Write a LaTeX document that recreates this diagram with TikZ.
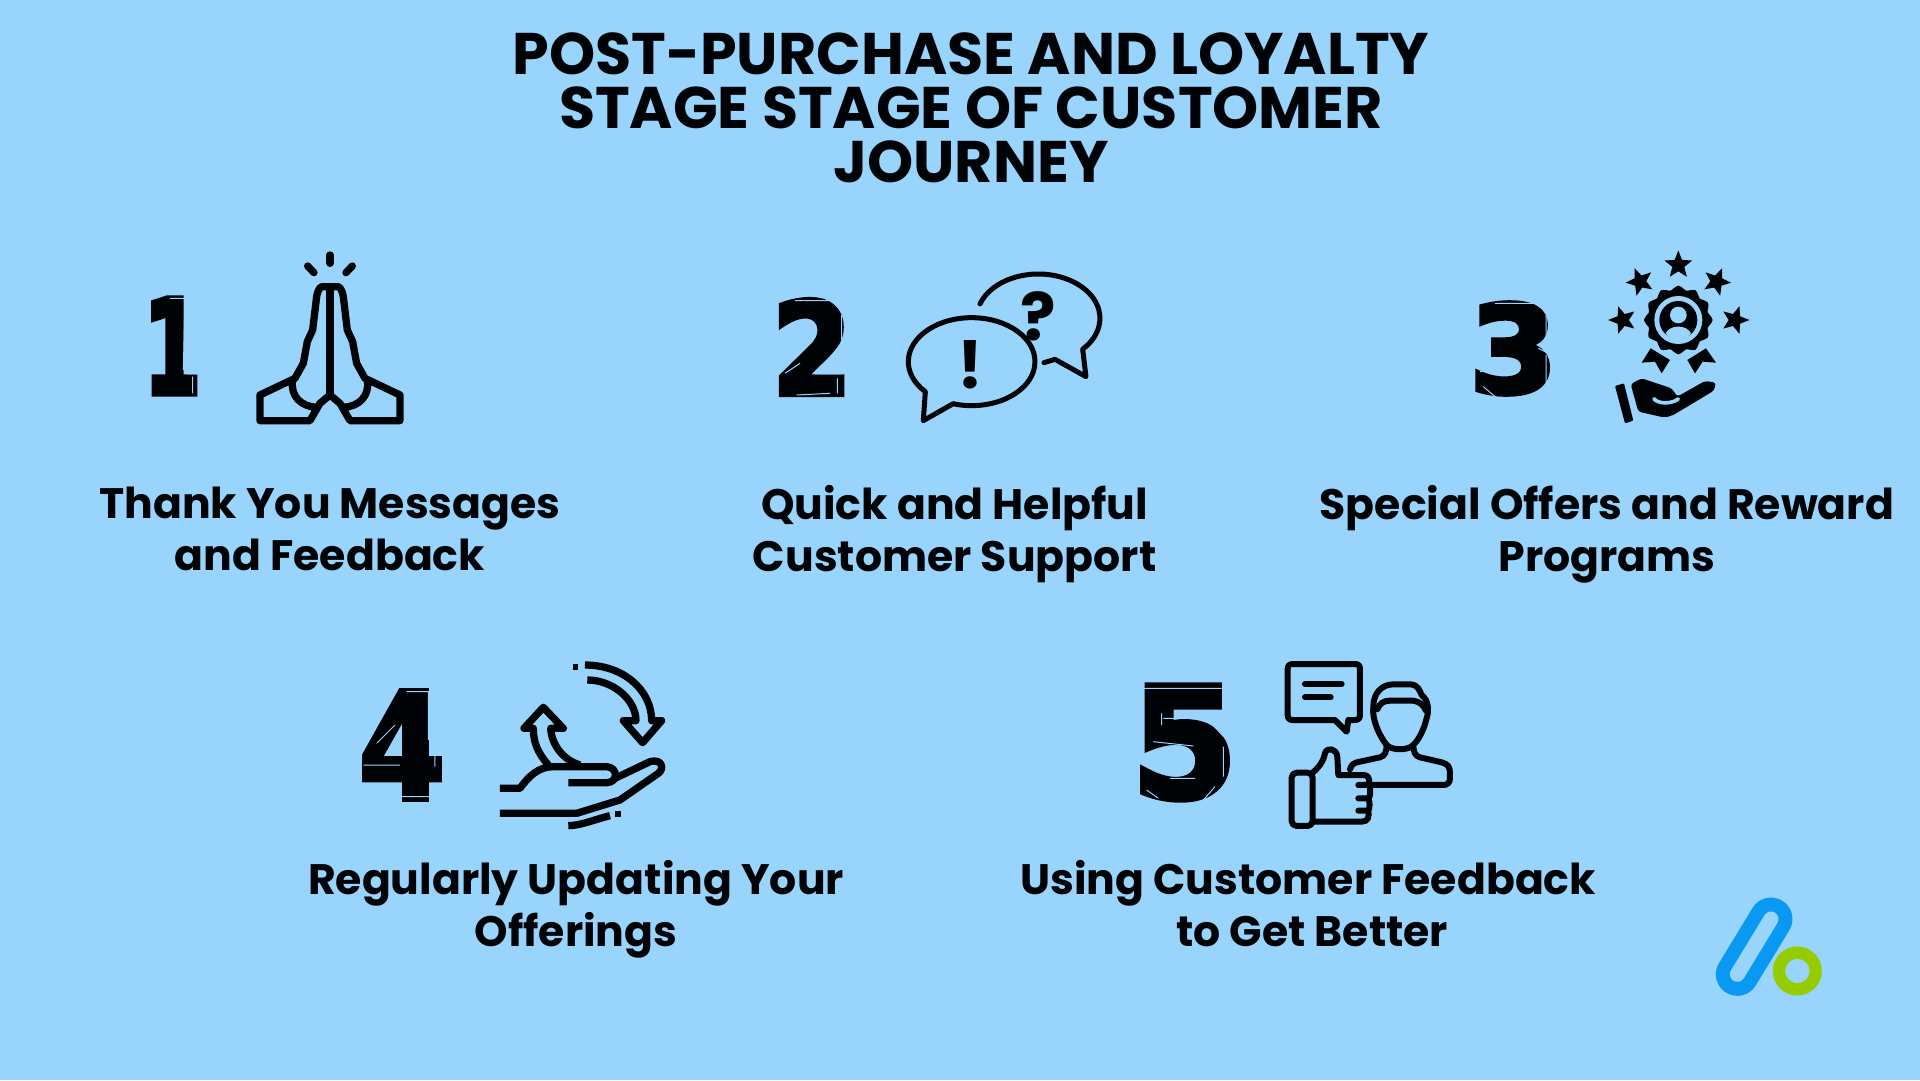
\documentclass[tikz,border=0pt]{standalone}
\usepackage{fontspec}
\setmainfont{Poppins}
\newfontfamily\numfont[FakeBold=4]{DejaVu Sans Bold}
\usetikzlibrary{positioning}
\usetikzlibrary{shapes.geometric}
\definecolor{skyback}{HTML}{98D4FB}
\definecolor{logoblue}{HTML}{0A99F2}
\definecolor{logogreen}{HTML}{95CC00}
\definecolor{inkblack}{HTML}{000306}
\newcommand{\labelstrut}{\rule[-12pt]{0pt}{46pt}}
\tikzstyle{stagetitle} = [font=\fontsize{58.7}{54}\selectfont\bfseries, align=center, inner sep=0pt, text=inkblack]
\tikzstyle{stagelabel} = [font=\fontsize{42.6}{52}\selectfont\bfseries, align=center, inner sep=0pt, text=inkblack, execute at begin node=\labelstrut, execute at end node=\labelstrut]
\tikzstyle{stagenum} = [font=\numfont, inner sep=0pt, text=inkblack]
\tikzstyle{iconline} = [draw=inkblack, line width=7.3pt, line cap=round, line join=round]
\tikzstyle{thinline} = [iconline, line width=5pt]
\tikzstyle{personline} = [iconline, line width=6pt]
\tikzstyle{bevel} = [draw=skyback, line width=1pt]
\tikzstyle{badgestar} = [star, star points=5, star point ratio=2.3, minimum size=29pt, inner sep=0pt, fill=inkblack]
\tikzstyle{zoomed} = [x=0.3333pt, y=-0.3333pt]
\newcommand{\handside}{%
    (630,170) -- (605,170) .. controls (595,175) and (592,190) .. (590,200)
    -- (578,300) -- (562,335) -- (550,400) -- (525,445)
    -- (420,495) -- (420,572) -- (570,572) -- (600,520) -- (630,495)
    (518,450) .. controls (510,500) and (545,530) .. (590,532)}
\begin{document}
\begin{tikzpicture}[x=1pt, y=-1pt]
    \useasboundingbox (0,0) rectangle (1920,1080);
    \fill [skyback] (0,0) rectangle (1920,1080);
    %% Title and labels
    \node [stagetitle] (title) at (971,108) {POST-PURCHASE AND LOYALTY\\STAGE STAGE OF CUSTOMER\\JOURNEY};
    \node [stagelabel] (labelThank) at (330,534.5) {Thank You Messages\\and Feedback};
    \node [stagelabel, right=192pt of labelThank] (labelSupport) {Quick and Helpful\\Customer Support};
    \node [stagelabel, right=163pt of labelSupport] (labelOffers) {Special Offers and Reward\\Programs};
    \node [stagelabel] (labelUpdate) at (576,909) {Regularly Updating Your\\Offerings};
    \node [stagelabel, right=176pt of labelUpdate] (labelBetter) {Using Customer Feedback\\\hspace*{8pt}to Get Better};
    %% Numbers
    \node [stagenum] (numOne) at (172.5,346) {\resizebox{58pt}{96pt}{1}};
    \node [stagenum] (numTwo) at (812,347) {\resizebox{80pt}{95pt}{2}};
    \node [stagenum] (numThree) at (1513.5,348.5) {\resizebox{88pt}{90pt}{3}};
    \node [stagenum] (numFour) at (402,745) {\resizebox{86pt}{108pt}{4}};
    \node [stagenum] (numFive) at (1184.5,742.5) {\resizebox{106pt}{112pt}{5}};
    \begin{scope}[shift={(120,230)}, zoomed]
        \draw [bevel] (150,205) -- (195,205) -- (190,420) (118,370) -- (118,420) (200,432) -- (235,432) (218,440) -- (218,490);
    \end{scope}
    \begin{scope}[shift={(760,250)}, zoomed]
        \draw [bevel] (105,152) -- (215,152) -- (250,190) (245,195) -- (245,270) (75,370) -- (120,340) (165,372) -- (245,372) (232,385) -- (232,430) (110,435) -- (210,430);
    \end{scope}
    \begin{scope}[shift={(1460,240)}, zoomed]
        \draw [bevel] (105,190) -- (225,190) -- (265,220) (258,225) -- (258,320) (235,325) -- (265,340) (258,345) -- (258,440) (70,440) -- (105,470) (60,395) -- (125,390);
    \end{scope}
    \begin{scope}[shift={(350,650)}, zoomed]
        \draw [bevel] (170,125) -- (240,125) (235,125) -- (235,270) (80,280) -- (135,225) (40,345) -- (150,345) (245,290) -- (275,285) (255,300) -- (255,350) (150,440) -- (250,440);
    \end{scope}
    \begin{scope}[shift={(1120,650)}, zoomed]
        \draw [bevel] (70,115) -- (305,115) (125,190) -- (125,225) (130,205) -- (260,205) -- (325,275) (310,290) -- (310,380) (100,275) -- (220,288) (65,345) -- (150,335) (150,385) -- (225,385) (80,420) -- (115,445) (250,450) -- (285,410);
    \end{scope}
    %% Praying hands
    \begin{scope}[shift={(120,230)}, zoomed]
        \draw [iconline] (630,75) -- (630,100);
        \draw [iconline] (563,108) -- (582,128);
        \draw [iconline] (697,108) -- (678,128);
        \draw [iconline] \handside;
        \begin{scope}[shift={(1260,0)}, xscale=-1]
            \draw [iconline] \handside;
        \end{scope}
        \draw [iconline] (630,170) -- (630,495);
    \end{scope}
    %% Speech bubbles
    \begin{scope}[shift={(760,250)}, zoomed]
        \draw [thinline] (635,335) ++(137:190 and 132) arc [start angle=137, end angle=467, x radius=190, y radius=132] -- (490,512) -- cycle;
        \draw [thinline] (835,205) ++(199:185 and 133) arc [start angle=199, end angle=404, x radius=185, y radius=133] -- (978,380) -- (885,328) -- (852,338);
        \node [font=\fontsize{66}{66}\selectfont\bfseries, inner sep=0pt, text=inkblack] (markQuestion) at (836,200) {?};
        \node [font=\fontsize{66}{66}\selectfont\bfseries, inner sep=0pt, text=inkblack] (markBang) at (630,345) {!};
    \end{scope}
    %% Award in hand
    \begin{scope}[shift={(1460,240)}, zoomed]
        \node [badgestar] (starTop) at (655,75) {};
        \node [badgestar, rotate=22] (starLeft) at (540,125) {};
        \node [badgestar, rotate=-22] (starRight) at (770,125) {};
        \node [badgestar, rotate=90] (starFarLeft) at (488,240) {};
        \node [badgestar, rotate=-90] (starFarRight) at (825,240) {};
        \fill [inkblack] plot [smooth cycle, samples=48, domain=0:352.5] ({655+(97+6*cos(12*\x))*cos(\x)},{240+(97+6*cos(12*\x))*sin(\x)});
        \fill [skyback] (655,240) circle [radius=72];
        \fill [inkblack] (655,240) circle [radius=57];
        \fill [skyback] (655,225) circle [radius=25];
        \fill [skyback] (617,280) .. controls (630,253) and (680,253) .. (693,280) .. controls (680,305) and (630,305) .. (617,280) -- cycle;
        \fill [inkblack] (572,325) -- (545,368) -- (585,365) -- (605,400) -- (630,360) -- cycle;
        \fill [inkblack] (738,325) -- (768,368) -- (728,365) -- (705,400) -- (682,360) -- cycle;
        \fill [inkblack, rounded corners=1pt] (465,438) -- (492,430) -- (520,542) -- (495,550) -- cycle;
        \fill [inkblack, rounded corners=3pt] (512,432) -- (545,415) -- (635,445) -- (652,470) -- (735,423) -- (768,428) -- (762,452) -- (640,525) -- (615,533) -- (535,515) -- cycle;
        \draw [skyback, line width=3.6pt, line cap=round] (582,476) .. controls (590,490) and (630,495) .. (655,477);
    \end{scope}
    %% Hand with arrows
    \begin{scope}[shift={(350,650)}, zoomed]
        \draw [iconline, line cap=butt] (705,45) .. controls (820,45) and (905,120) .. (905,212) -- (935,212) -- (878,278) -- (820,212) -- (858,212) .. controls (858,150) and (790,90) .. (712,90);
        \fill [inkblack] (668,42) rectangle (683,60);
        \draw [iconline, line cap=butt] (595,345) .. controls (565,310) and (550,280) .. (550,235) -- (522,235) -- (580,172) -- (640,235) -- (602,235) .. controls (605,285) and (640,330) .. (690,345);
        \draw [iconline, line cap=butt] (450,415) -- (510,415) .. controls (535,380) and (565,350) .. (610,350) -- (770,350) .. controls (805,352) and (805,398) .. (770,398) -- (655,398);
        \draw [iconline, line cap=butt] (795,385) -- (900,335) .. controls (935,325) and (945,355) .. (925,370) -- (810,450) -- (680,490) -- (450,490);
        \draw [iconline, line cap=butt] (655,527) .. controls (690,527) and (730,510) .. (780,497);
        \fill [inkblack] (795,484) rectangle (812,500);
    \end{scope}
    %% Feedback person
    \begin{scope}[shift={(1120,650)}, zoomed]
        \draw [personline] (520,42) -- (705,42) .. controls (715,42) and (720,47) .. (720,57) -- (720,195) .. controls (720,205) and (715,210) .. (705,210) -- (685,210) -- (680,245) -- (645,210) -- (518,210) .. controls (508,210) and (503,205) .. (503,195) -- (503,57) .. controls (503,47) and (508,42) .. (520,42) -- cycle;
        \draw [personline] (555,102) -- (665,102);
        \draw [personline] (555,142) -- (632,142);
        \draw [personline] (690,358) .. controls (695,340) and (705,338) .. (720,335) -- (780,322) .. controls (795,318) and (800,305) .. (800,285) .. controls (780,260) and (755,210) .. (760,170) .. controls (760,130) and (785,103) .. (820,103) -- (870,103) .. controls (895,103) and (900,125) .. (905,135) .. controls (925,150) and (928,180) .. (920,205) .. controls (910,245) and (895,270) .. (880,285) .. controls (880,305) and (885,318) .. (900,322) -- (965,337) .. controls (985,342) and (990,352) .. (990,370) -- (990,385) .. controls (990,400) and (980,405) .. (970,405) -- (752,405);
        \draw [personline] (772,178) .. controls (780,160) and (790,152) .. (810,152) -- (880,152) .. controls (900,155) and (910,165) .. (918,182);
        \draw [personline] (800,285) .. controls (815,302) and (865,302) .. (880,285);
        \draw [personline, rounded corners=5pt] (515,368) rectangle (578,528);
        \draw [personline] (578,368) .. controls (605,345) and (612,325) .. (615,310) .. controls (620,290) and (650,295) .. (652,320) -- (655,375) -- (730,375) .. controls (745,375) and (748,385) .. (748,400) .. controls (748,405) and (735,405) .. (715,405) (748,405) .. controls (752,420) and (752,440) .. (745,445) -- (715,445) (745,445) .. controls (750,455) and (750,475) .. (745,482) -- (715,482) (745,482) .. controls (748,500) and (745,515) .. (725,515) -- (578,515);
    \end{scope}
    %% Logo
    \begin{scope}[shift={(1690,880)}, zoomed]
        \draw [logoblue, line width=43pt, line cap=round] (243,117) -- (142,283);
        \draw [skyback, line width=15pt, line cap=round] (243,117) -- (142,283);
        \draw [logogreen, line width=12.3pt, fill=skyback] (322,273) circle [radius=55];
    \end{scope}
\end{tikzpicture}
\end{document}
